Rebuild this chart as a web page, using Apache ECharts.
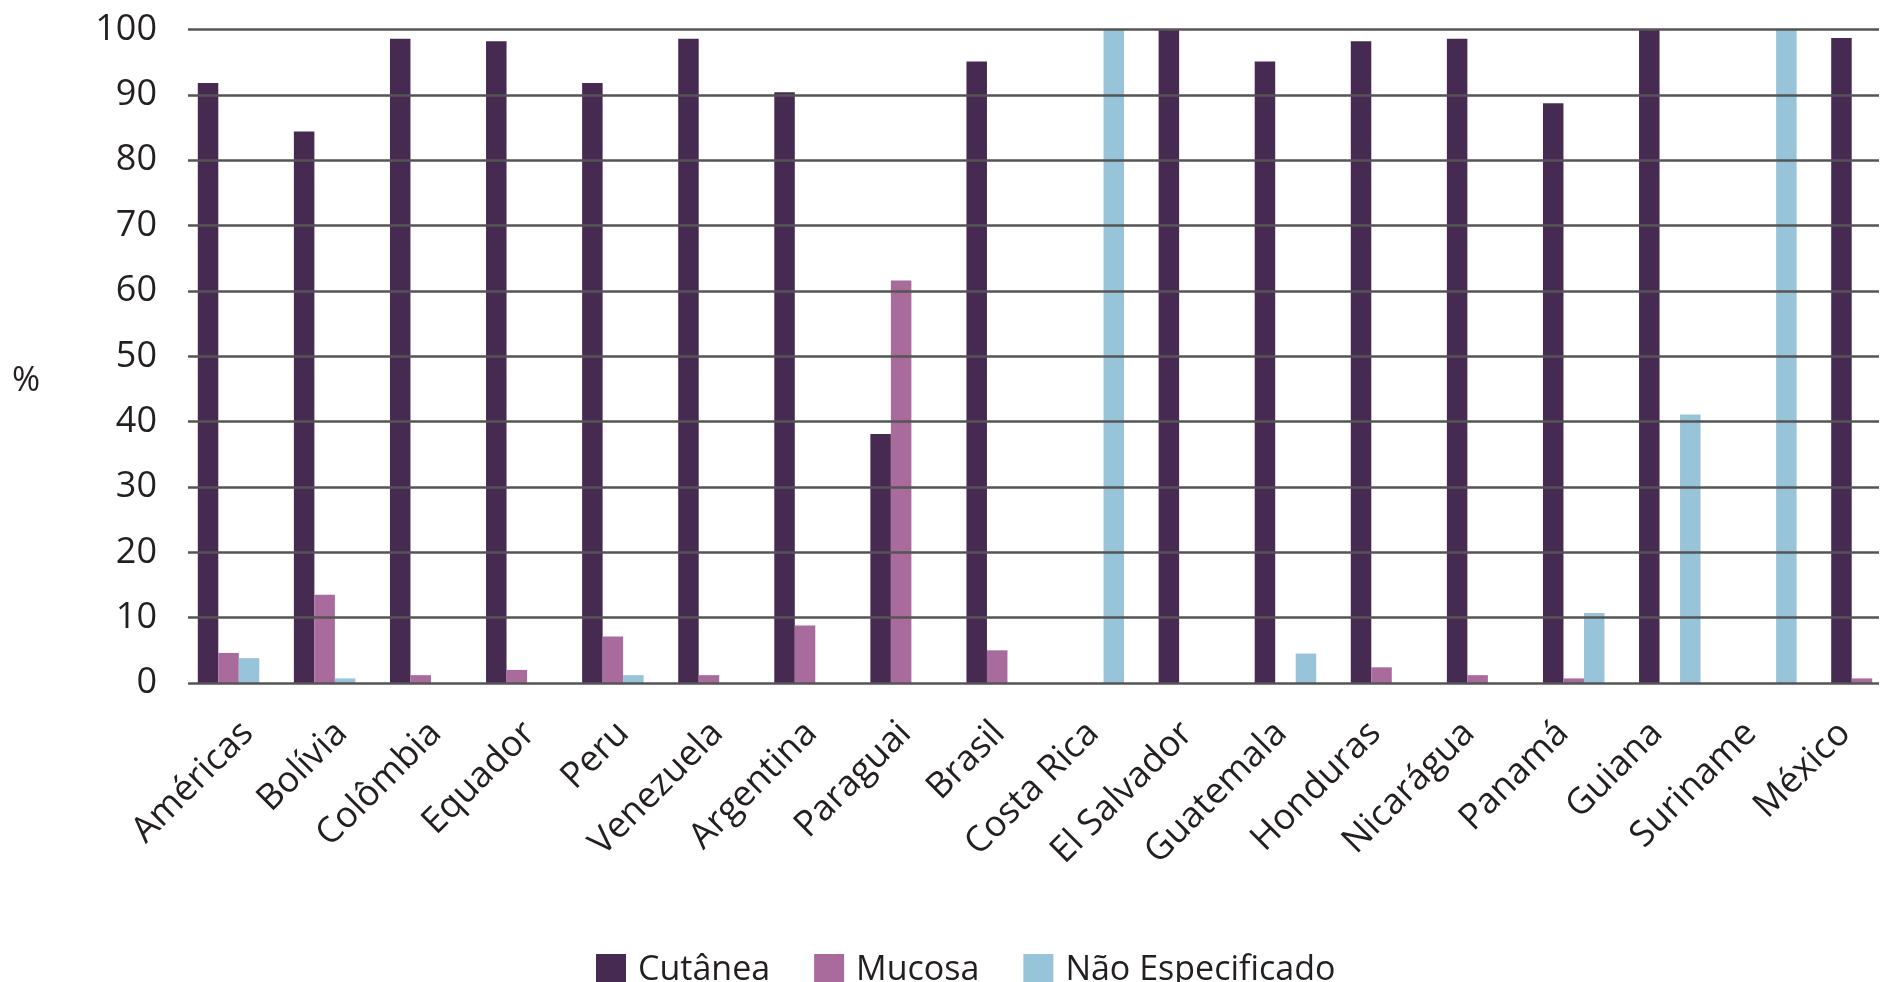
<!DOCTYPE html>
<html>
<head>
<meta charset="utf-8">
<title>Forma clínica</title>
<script src="https://cdn.jsdelivr.net/npm/echarts@6/dist/echarts.min.js"></script>
<style>
  html, body { margin: 0; padding: 0; background: #fff; overflow: hidden; }
  /* a área do gráfico passa 20px da janela, como no original (última barra cortada na borda) */
  #chart { width: 1910px; height: 982px; }
</style>
</head>
<body>
<div id="chart"></div>
<script>
// categorias (países)
var paises = ['Américas', 'Bolívia', 'Colômbia', 'Equador', 'Peru', 'Venezuela', 'Argentina', 'Paraguai',
  'Brasil', 'Costa Rica', 'El Salvador', 'Guatemala', 'Honduras', 'Nicarágua', 'Panamá', 'Guiana',
  'Suriname', 'México']

// valores em %
var cutanea = [91.8, 84.4, 98.6, 98.2, 91.8, 98.6, 90.4, 38.1, 95.1, 0, 100, 95.1, 98.2, 98.6, 88.7, 100, 0, 98.7]
var mucosa = [4.6, 13.5, 1.2, 2.0, 7.1, 1.2, 8.8, 61.6, 5.0, 0, 0, 0, 2.4, 1.2, 0.7, 0, 0, 0.7]
var naoEspecificado = [3.8, 0.7, 0, 0, 1.2, 0, 0, 0, 0, 100, 0, 4.5, 0, 0, 10.7, 41.1, 100, 0]

var yTicks = { min: 0, max: 100, interval: 10 }

var fonte = '"Open Sans", "Noto Sans", sans-serif'
var corTexto = '#231f20'

var chart = echarts.init(document.getElementById('chart'))

function serie(nome, dados, cor) {
  return {
    name: nome,
    type: 'bar',
    xAxisIndex: 0,
    yAxisIndex: 0,
    barWidth: 20.5,
    barGap: '0%',
    itemStyle: { color: cor },
    data: dados,
    animation: false
  }
}

chart.setOption({
  backgroundColor: '#fff',
  textStyle: { fontFamily: fonte },
  // grid 0 = barras, grid 1 = linhas de grade, eixo y e rótulos das categorias
  grid: [
    { left: 180.5, right: 0, top: 29.5, bottom: 299 },
    { left: 188, right: 31, top: 29.5, bottom: 299 }
  ],
  graphic: [{
    type: 'text',
    left: 12,
    top: 364,
    style: { text: '%', fontSize: 34, fill: corTexto, fontFamily: fonte }
  }],
  legend: {
    left: 591,
    top: 948,
    itemWidth: 30,
    itemHeight: 32,
    itemGap: 44,
    icon: 'rect',
    textStyle: { fontSize: 34, color: corTexto, fontFamily: fonte, padding: [0, 0, 0, 7] },
    data: ['Cutânea', 'Mucosa', 'Não Especificado']
  },
  xAxis: [{
    type: 'category',
    gridIndex: 0,
    data: paises,
    show: false
  }, {
    type: 'category',
    gridIndex: 1,
    data: paises,
    axisLine: { show: false },
    axisTick: { show: false },
    axisLabel: {
      rotate: 45,
      interval: 0,
      margin: 32,
      align: 'right',
      verticalAlign: 'top',
      fontSize: 36,
      color: corTexto,
      fontFamily: fonte
    }
  }],
  yAxis: [{
    type: 'value',
    gridIndex: 0,
    min: yTicks.min,
    max: yTicks.max,
    interval: yTicks.interval,
    show: false
  }, {
    type: 'value',
    gridIndex: 1,
    min: yTicks.min,
    max: yTicks.max,
    interval: yTicks.interval,
    z: 5,
    axisLine: { show: false },
    axisTick: { show: false },
    axisLabel: { margin: 31, fontSize: 36, color: corTexto, fontFamily: fonte },
    splitLine: { lineStyle: { color: '#555555', width: 2.5 } }
  }],
  series: [
    serie('Cutânea', cutanea, '#472a52'),
    serie('Mucosa', mucosa, '#a96b9b'),
    serie('Não Especificado', naoEspecificado, '#97c4d8')
  ]
})
</script>
</body>
</html>
